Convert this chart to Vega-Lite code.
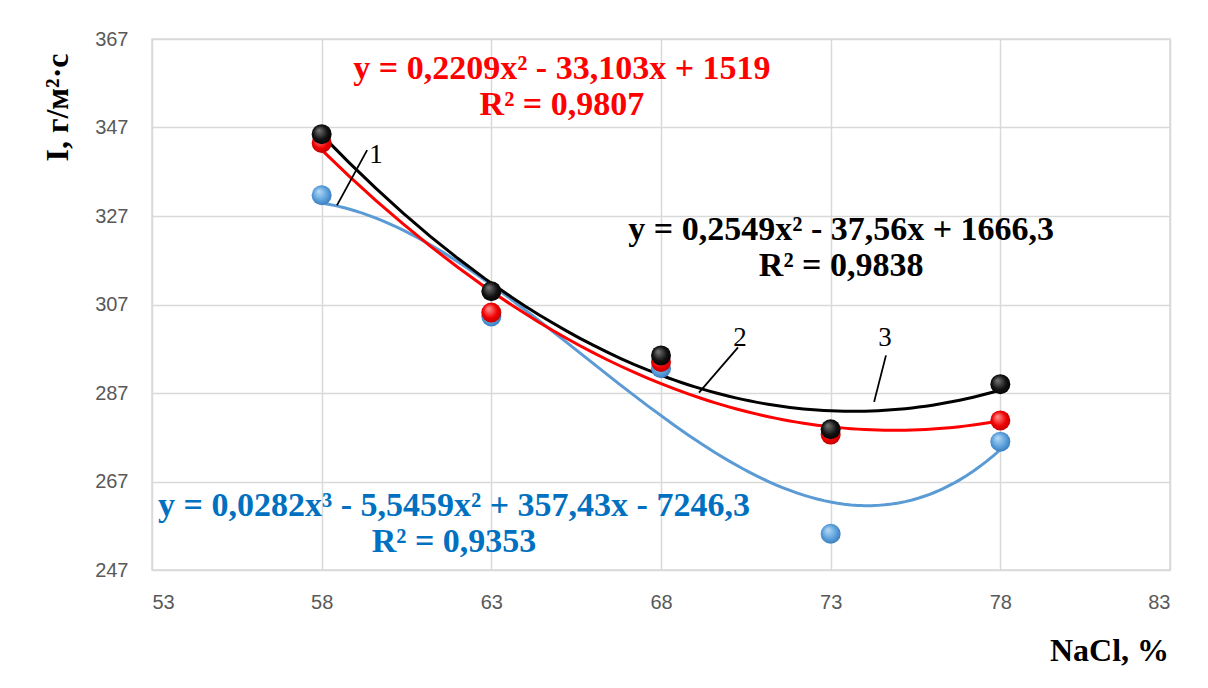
{
  "$schema": "https://vega.github.io/schema/vega-lite/v6.json",
  "width": 1018,
  "height": 531,
  "autosize": "none",
  "padding": {"left": 152, "top": 39, "right": 38, "bottom": 118},
  "background": "white",
  "config": {
    "view": {"stroke": "#d9d9d9", "strokeWidth": 1.5},
    "axis": {
      "gridColor": "#d9d9d9",
      "gridWidth": 1.5,
      "domain": false,
      "ticks": false,
      "labelFont": "Liberation Sans",
      "labelFontSize": 20,
      "labelColor": "#595959",
      "titleFont": "Liberation Serif",
      "titleFontWeight": "bold",
      "titleFontSize": 32,
      "titleColor": "#000000"
    }
  },
  "datasets": {
    "pts": [
      {"x": 58, "y": 331.7, "series": "1"},
      {"x": 63, "y": 304.3, "series": "1"},
      {"x": 68, "y": 292.6, "series": "1"},
      {"x": 73, "y": 255.2, "series": "1"},
      {"x": 78, "y": 276.0, "series": "1"},
      {"x": 58, "y": 343.5, "series": "2"},
      {"x": 63, "y": 305.2, "series": "2"},
      {"x": 68, "y": 294.0, "series": "2"},
      {"x": 73, "y": 277.6, "series": "2"},
      {"x": 78, "y": 280.8, "series": "2"},
      {"x": 58, "y": 345.5, "series": "3"},
      {"x": 63, "y": 310.0, "series": "3"},
      {"x": 68, "y": 295.5, "series": "3"},
      {"x": 73, "y": 278.8, "series": "3"},
      {"x": 78, "y": 289.0, "series": "3"}
    ],
    "eqs": [
      {"x": 65.08, "y": 360.2, "text": "y = 0,2209x² - 33,103x + 1519", "series": "2"},
      {"x": 65.08, "y": 352.1, "text": "R² = 0,9807", "series": "2"},
      {"x": 73.31, "y": 323.8, "text": "y = 0,2549x² - 37,56x + 1666,3", "series": "3"},
      {"x": 73.31, "y": 315.6, "text": "R² = 0,9838", "series": "3"},
      {"x": 61.9, "y": 261.5, "text": "y = 0,0282x³ - 5,5459x² + 357,43x - 7246,3", "series": "1"},
      {"x": 61.9, "y": 253.35, "text": "R² = 0,9353", "series": "1"}
    ],
    "leaders": [
      {"x": 58.45, "y": 329.4, "x2": 59.34, "y2": 341.9},
      {"x": 69.12, "y": 287.1, "x2": 70.27, "y2": 297.3},
      {"x": 74.28, "y": 285.0, "x2": 74.63, "y2": 295.5}
    ],
    "nums": [
      {"x": 59.6, "y": 340.7, "label": "1"},
      {"x": 70.33, "y": 299.5, "label": "2"},
      {"x": 74.6, "y": 299.5, "label": "3"}
    ]
  },
  "encoding": {
    "x": {
      "field": "x", "type": "quantitative",
      "scale": {"domain": [53, 83], "nice": false, "zero": false},
      "axis": {
        "values": [53, 58, 63, 68, 73, 78, 83],
        "title": "NaCl, %",
        "labelPadding": 22,
        "titleX": 957, "titleY": 80, "titleAlign": "center", "titleBaseline": "middle"
      }
    },
    "y": {
      "field": "y", "type": "quantitative",
      "scale": {"domain": [247, 367], "nice": false, "zero": false},
      "axis": {
        "values": [247, 267, 287, 307, 327, 347, 367],
        "title": "I, г/м²·с",
        "labelPadding": 24,
        "titleX": -95, "titleY": 68, "titleAngle": -90, "titleAlign": "center", "titleBaseline": "middle"
      }
    }
  },
  "layer": [
    {
      "data": {"name": "pts"},
      "transform": [
        {"filter": "datum.series === '1'"},
        {"regression": "y", "on": "x", "method": "poly", "order": 3, "extent": [58, 78]}
      ],
      "mark": {"type": "line", "color": "#5b9bd5", "strokeWidth": 3}
    },
    {
      "data": {"name": "pts"},
      "transform": [
        {"filter": "datum.series === '2'"},
        {"regression": "y", "on": "x", "method": "poly", "order": 2, "extent": [58, 78]}
      ],
      "mark": {"type": "line", "color": "#ff0000", "strokeWidth": 3}
    },
    {
      "data": {"name": "pts"},
      "transform": [
        {"filter": "datum.series === '3'"},
        {"regression": "y", "on": "x", "method": "poly", "order": 2, "extent": [58, 78]}
      ],
      "mark": {"type": "line", "color": "#000000", "strokeWidth": 3}
    },
    {
      "data": {"name": "pts"},
      "transform": [{"filter": "datum.series === '1'"}],
      "mark": {
        "type": "point", "shape": "circle", "size": 400, "filled": true, "opacity": 1,
        "fill": {"gradient": "radial", "x1": 0.35, "y1": 0.3, "r1": 0, "x2": 0.5, "y2": 0.5, "r2": 0.6,
                 "stops": [{"offset": 0, "color": "#b9dcf7"}, {"offset": 0.6, "color": "#5a9fdb"}, {"offset": 1, "color": "#2f6fb0"}]}
      }
    },
    {
      "data": {"name": "pts"},
      "transform": [{"filter": "datum.series === '2'"}],
      "mark": {
        "type": "point", "shape": "circle", "size": 400, "filled": true, "opacity": 1,
        "fill": {"gradient": "radial", "x1": 0.35, "y1": 0.3, "r1": 0, "x2": 0.5, "y2": 0.5, "r2": 0.6,
                 "stops": [{"offset": 0, "color": "#ff9a9a"}, {"offset": 0.6, "color": "#f00000"}, {"offset": 1, "color": "#b00000"}]}
      }
    },
    {
      "data": {"name": "pts"},
      "transform": [{"filter": "datum.series === '3'"}],
      "mark": {
        "type": "point", "shape": "circle", "size": 400, "filled": true, "opacity": 1,
        "fill": {"gradient": "radial", "x1": 0.35, "y1": 0.3, "r1": 0, "x2": 0.5, "y2": 0.5, "r2": 0.6,
                 "stops": [{"offset": 0, "color": "#7a7a7a"}, {"offset": 0.6, "color": "#111111"}, {"offset": 1, "color": "#000000"}]}
      }
    },
    {
      "data": {"name": "leaders"},
      "mark": {"type": "rule", "color": "#000000", "strokeWidth": 1.8},
      "encoding": {
        "x2": {"field": "x2"},
        "y2": {"field": "y2"}
      }
    },
    {
      "data": {"name": "nums"},
      "mark": {"type": "text", "font": "Liberation Serif", "fontSize": 27, "color": "#000000", "align": "center", "baseline": "middle"},
      "encoding": {"text": {"field": "label"}}
    },
    {
      "data": {"name": "eqs"},
      "mark": {"type": "text", "font": "Liberation Serif", "fontWeight": "bold", "fontSize": 34, "align": "center", "baseline": "middle"},
      "encoding": {
        "text": {"field": "text"},
        "color": {
          "field": "series", "type": "nominal",
          "scale": {"domain": ["1", "2", "3"], "range": ["#0070c0", "#ff0000", "#000000"]},
          "legend": null
        }
      }
    }
  ]
}
